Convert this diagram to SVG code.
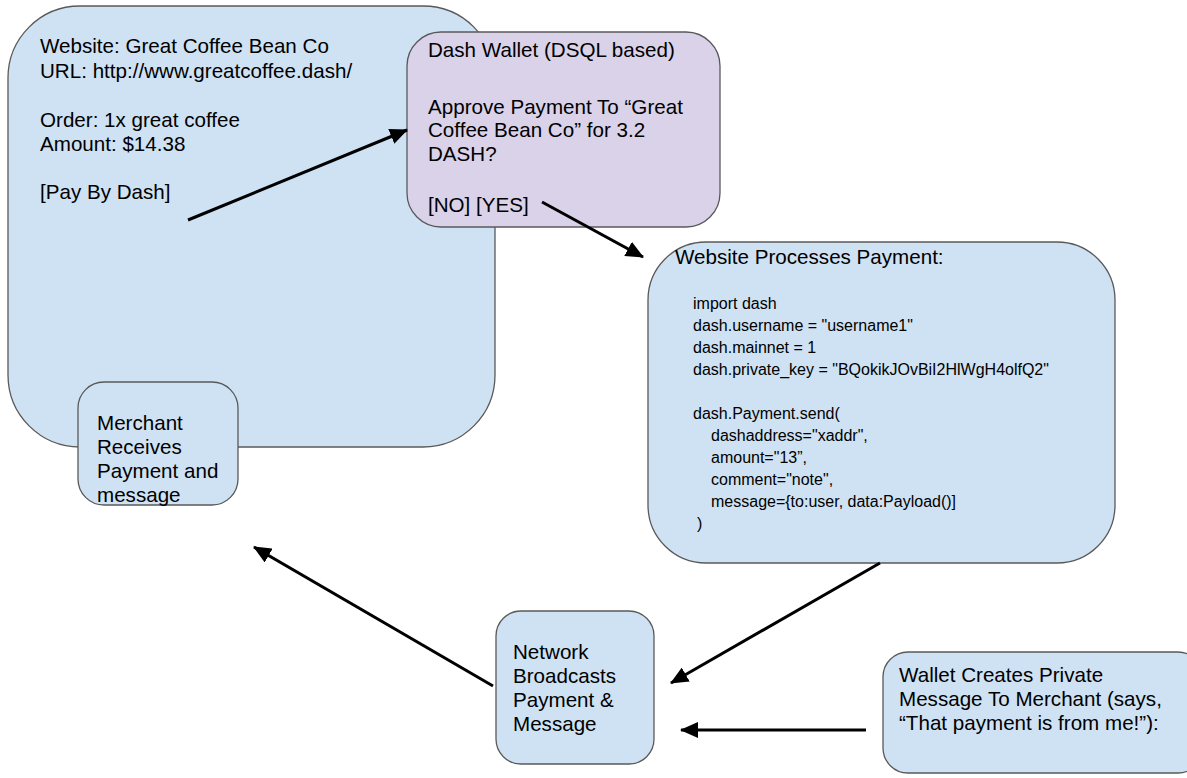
<svg xmlns="http://www.w3.org/2000/svg" width="1187" height="778" viewBox="0 0 1187 778">
<style>
.blue{fill:#cfe2f3;stroke:#595959;stroke-width:1.3}
.purple{fill:#d9d2e9;stroke:#595959;stroke-width:1.3}
.t{font-family:"Liberation Sans",Arial,sans-serif;font-size:20.6px;fill:#000}
.c{font-family:"Liberation Sans",Arial,sans-serif;font-size:16px;fill:#000}
.conn line{stroke:#000;stroke-width:3;marker-end:url(#ah)}
</style>
<defs>
<marker id="ah" markerUnits="userSpaceOnUse" viewBox="0 0 18 16" refX="17" refY="8" markerWidth="18" markerHeight="16" orient="auto">
<path d="M0,0 L18,8 L0,16 Z" fill="#000"/>
</marker>
</defs>
<rect width="1187" height="778" fill="#fff"/>
<g id="website">
<rect class="blue" x="8" y="6" width="487" height="441" rx="72" ry="72"/>
<text class="t" x="40" y="53">Website: Great Coffee Bean Co</text>
<text class="t" x="40" y="78">URL: http://www.greatcoffee.dash/</text>
<text class="t" x="40" y="127">Order: 1x great coffee</text>
<text class="t" x="40" y="151">Amount: $14.38</text>
<text class="t" x="40" y="199">[Pay By Dash]</text>
</g>
<g id="merchant">
<rect class="blue" x="78" y="382" width="160" height="123" rx="26" ry="26"/>
<text class="t" x="97" y="430">Merchant</text>
<text class="t" x="97" y="454">Receives</text>
<text class="t" x="97" y="478">Payment and</text>
<text class="t" x="97" y="502">message</text>
</g>
<g id="wallet">
<rect class="purple" x="407" y="32" width="313" height="195" rx="34" ry="34"/>
<text class="t" x="428" y="57">Dash Wallet (DSQL based)</text>
<text class="t" x="428" y="114">Approve Payment To “Great</text>
<text class="t" x="428" y="137">Coffee Bean Co” for 3.2</text>
<text class="t" x="428" y="161">DASH?</text>
<text class="t" x="428" y="212">[NO] [YES]</text>
</g>
<g id="processes">
<rect class="blue" x="648" y="242" width="467" height="321" rx="58" ry="58"/>
<text class="t" x="675" y="264">Website Processes Payment:</text>
<text class="c" x="693" y="309">import dash</text>
<text class="c" x="693" y="331">dash.username = "username1"</text>
<text class="c" x="693" y="353">dash.mainnet = 1</text>
<text class="c" x="693" y="375">dash.private_key = "BQokikJOvBiI2HlWgH4olfQ2"</text>
<text class="c" x="693" y="419">dash.Payment.send(</text>
<text class="c" x="711" y="441">dashaddress="xaddr",</text>
<text class="c" x="711" y="463">amount="13”,</text>
<text class="c" x="711" y="485">comment="note",</text>
<text class="c" x="711" y="507">message={to:user, data:Payload()]</text>
<text class="c" x="697" y="529">)</text>
</g>
<g id="network">
<rect class="blue" x="496" y="611" width="158" height="153" rx="25" ry="25"/>
<text class="t" x="513" y="659">Network</text>
<text class="t" x="513" y="683">Broadcasts</text>
<text class="t" x="513" y="707">Payment &amp;</text>
<text class="t" x="513" y="731">Message</text>
</g>
<g id="walletmsg">
<rect class="blue" x="883" y="652" width="320" height="121" rx="25" ry="25"/>
<text class="t" x="899" y="682">Wallet Creates Private</text>
<text class="t" x="899" y="706">Message To Merchant (says,</text>
<text class="t" x="899" y="730">“That payment is from me!”):</text>
</g>
<g id="connectors" class="conn">
<line x1="188" y1="220" x2="407" y2="130"/>
<line x1="542" y1="202" x2="643" y2="257"/>
<line x1="880" y1="563" x2="671" y2="683"/>
<line x1="493" y1="686" x2="254" y2="547"/>
<line x1="866" y1="730" x2="681" y2="730"/>
</g>
</svg>
